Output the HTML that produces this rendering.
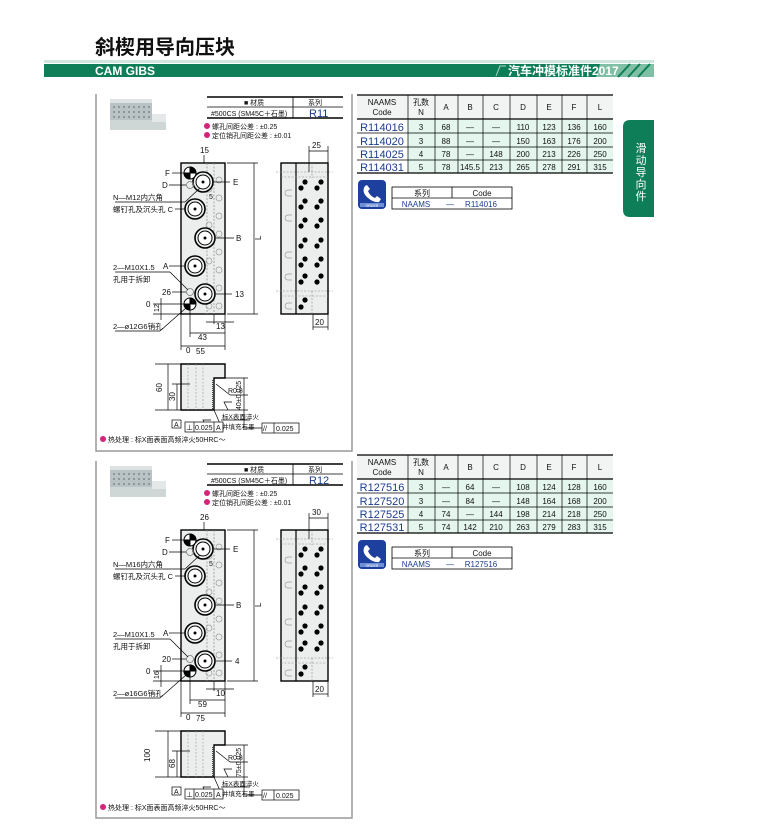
<!DOCTYPE html>
<html><head><meta charset="utf-8"><style>
html,body{margin:0;padding:0;background:#fff;}
svg{display:block;font-family:"Liberation Sans","Noto Sans CJK SC",sans-serif;}
</style></head><body>
<svg width="769" height="839" viewBox="0 0 769 839" xmlns="http://www.w3.org/2000/svg">
<defs>
<g id="quad"><circle r="6" fill="#fff" stroke="#000" stroke-width="1"/><path d="M0,0 L6,0 A6,6 0 0 0 0,-6 Z M0,0 L-6,0 A6,6 0 0 0 0,6 Z" fill="#000"/></g>
<g id="cb"><circle r="10" fill="#eef0f0" stroke="#000" stroke-width="1.6"/><circle r="7" fill="#fff" stroke="#000" stroke-width="1"/><circle r="1" fill="#000"/></g>
<g id="dots"><circle cx="4" cy="0" r="2.6"/><circle cx="0" cy="6" r="2.6"/><circle cx="20" cy="0" r="2.6"/><circle cx="16" cy="6" r="2.6"/></g>
<g id="geom" fill="none" stroke="#000">
  <!-- panel frame -->
  <path d="M96,94 L96,451 L352,451 L352,94" stroke="#999" stroke-width="1.5"/>
  <!-- photo -->
  <g stroke="none"><rect x="110" y="101" width="42" height="22" fill="#b9c2c4"/><rect x="110" y="99" width="42" height="4" fill="#dde2e3"/><rect x="110" y="120" width="56" height="10" fill="#cfd6d6"/><rect x="152" y="114" width="14" height="8" fill="#e4e8e8"/></g>
  <g fill="#7f8a8c" stroke="none">
   <circle cx="114" cy="107" r="1"/><circle cx="119" cy="107" r="1"/><circle cx="124" cy="107" r="1"/><circle cx="129" cy="107" r="1"/><circle cx="134" cy="107" r="1"/><circle cx="139" cy="107" r="1"/><circle cx="144" cy="107" r="1"/><circle cx="149" cy="107" r="1"/>
   <circle cx="114" cy="112" r="1"/><circle cx="119" cy="112" r="1"/><circle cx="124" cy="112" r="1"/><circle cx="129" cy="112" r="1"/><circle cx="134" cy="112" r="1"/><circle cx="139" cy="112" r="1"/><circle cx="144" cy="112" r="1"/><circle cx="149" cy="112" r="1"/>
   <circle cx="114" cy="117" r="1"/><circle cx="119" cy="117" r="1"/><circle cx="124" cy="117" r="1"/><circle cx="129" cy="117" r="1"/><circle cx="134" cy="117" r="1"/><circle cx="139" cy="117" r="1"/><circle cx="144" cy="117" r="1"/><circle cx="149" cy="117" r="1"/>
  </g>
  <!-- material table -->
  <g stroke="#000" stroke-width="0.8"><line x1="207" y1="97" x2="343" y2="97" stroke-width="1.4"/><line x1="207" y1="107" x2="343" y2="107"/><line x1="207" y1="118" x2="343" y2="118" stroke-width="1.4"/><line x1="293" y1="97" x2="293" y2="118"/></g>
  <!-- front block -->
  <rect x="181" y="163" width="44" height="151" fill="#eceeee" stroke-width="1.4"/>
  <line x1="207" y1="163" x2="207" y2="314" stroke="#888" stroke-dasharray="2,1.5" stroke-width="0.7"/>
  <line x1="214" y1="163" x2="214" y2="314" stroke="#888" stroke-dasharray="2,1.5" stroke-width="0.7"/>
  <g stroke="#999" stroke-width="0.7"><circle cx="219" cy="180" r="3"/><circle cx="219" cy="198" r="3"/><circle cx="219" cy="216" r="3"/><circle cx="219" cy="234" r="3"/><circle cx="219" cy="252" r="3"/><circle cx="219" cy="270" r="3"/><circle cx="219" cy="288" r="3"/><circle cx="219" cy="306" r="3"/>
  <circle cx="209" cy="189" r="3"/><circle cx="209" cy="225" r="3"/><circle cx="209" cy="261" r="3"/><circle cx="209" cy="306" r="3"/></g>
  <use href="#cb" x="203" y="182"/><use href="#cb" x="195" y="209"/><use href="#cb" x="205" y="238"/><use href="#cb" x="195" y="266"/><use href="#cb" x="205" y="294"/>
  <use href="#quad" x="190" y="173"/><use href="#quad" x="190" y="304"/>
  <circle cx="190" cy="185" r="3.5" stroke="#777" stroke-width="0.8"/><circle cx="190" cy="292" r="3.5" stroke="#777" stroke-width="0.8"/>
  <!-- leaders -->
  <g stroke-width="0.7">
   <line x1="172" y1="173" x2="184" y2="173"/><line x1="169" y1="185" x2="186" y2="185"/><line x1="214" y1="182" x2="230" y2="182"/>
   <line x1="115" y1="202" x2="185" y2="202"/><line x1="185" y1="202" x2="200" y2="188"/>
   <line x1="175" y1="209" x2="185" y2="209"/><line x1="216" y1="238" x2="234" y2="238"/>
   <line x1="169" y1="266" x2="185" y2="266"/><line x1="115" y1="272" x2="170" y2="272"/><line x1="170" y1="272" x2="188" y2="290"/>
   <line x1="172" y1="292" x2="186" y2="292"/><line x1="216" y1="294" x2="232" y2="294"/>
   <line x1="153" y1="304" x2="184" y2="304"/><line x1="153" y1="314" x2="181" y2="314"/><line x1="161" y1="298" x2="161" y2="320"/>
   <line x1="115" y1="331" x2="160" y2="331"/><line x1="160" y1="331" x2="186" y2="308"/>
   <line x1="204" y1="155" x2="204" y2="163"/>
   <!-- L -->
   <line x1="227" y1="163" x2="258" y2="163"/><line x1="227" y1="314" x2="258" y2="314"/><line x1="254" y1="163" x2="254" y2="314"/>
   <!-- bottom dims -->
   <line x1="181" y1="314" x2="181" y2="350"/><line x1="225" y1="314" x2="225" y2="350"/><line x1="190" y1="310" x2="190" y2="337"/><line x1="214" y1="314" x2="214" y2="324"/>
   <line x1="181" y1="346" x2="225" y2="346"/><line x1="190" y1="333" x2="225" y2="333"/><line x1="206" y1="322" x2="234" y2="322"/>
  </g>
  <!-- side view -->
  <rect x="281" y="163" width="47" height="151" fill="#eceeee" stroke-width="1.4"/>
  <line x1="296" y1="163" x2="296" y2="314" stroke-width="1.2"/>
  <g stroke="#888" stroke-width="0.6" stroke-dasharray="2,1.5"><line x1="276" y1="172" x2="333" y2="172"/><line x1="281" y1="177" x2="328" y2="177"/><line x1="276" y1="291" x2="333" y2="291"/><line x1="281" y1="296" x2="328" y2="296"/><line x1="312" y1="163" x2="312" y2="178"/><line x1="312" y1="291" x2="312" y2="314"/></g>
  <g stroke="#999" stroke-width="0.7"><path d="M292,190 h-4 a3,3 0 0 0 0,6 h4"/><path d="M292,215 h-4 a3,3 0 0 0 0,6 h4"/><path d="M292,252 h-4 a3,3 0 0 0 0,6 h4"/><path d="M292,274 h-4 a3,3 0 0 0 0,6 h4"/><path d="M292,303 h-4 a3,3 0 0 0 0,6 h4"/></g>
  <g fill="#000" stroke="none"><use href="#dots" x="301" y="182"/><use href="#dots" x="301" y="201"/><use href="#dots" x="301" y="220"/><use href="#dots" x="301" y="240"/><use href="#dots" x="301" y="259"/><use href="#dots" x="301" y="276"/><circle cx="305" cy="300" r="2.6"/><circle cx="301" cy="307" r="2.6"/></g>
  <g stroke-width="0.7"><line x1="309" y1="146" x2="309" y2="172"/><line x1="328" y1="146" x2="328" y2="163"/><line x1="309" y1="151" x2="328" y2="151"/>
  <line x1="313" y1="314" x2="313" y2="330"/><line x1="328" y1="314" x2="328" y2="330"/><line x1="313" y1="327" x2="328" y2="327"/></g>
  <!-- bottom profile -->
  <path d="M181,364 L225,364 L225,378 L214,378 L214,410 L181,410 Z" fill="#eceeee" stroke-width="1.4"/>
  <g stroke="#999" stroke-width="0.6" stroke-dasharray="2,1.5"><line x1="188" y1="364" x2="188" y2="410"/><line x1="196" y1="364" x2="196" y2="410"/><line x1="203" y1="364" x2="203" y2="410"/></g>
  <line x1="213" y1="380" x2="213" y2="410" stroke="#444" stroke-width="2" stroke-dasharray="1,1"/>
  <g stroke-width="0.7">
   <line x1="155" y1="364" x2="181" y2="364"/><line x1="168" y1="364" x2="168" y2="410"/><line x1="155" y1="410" x2="181" y2="410"/>
   <line x1="172" y1="384" x2="190" y2="384"/><line x1="177" y1="384" x2="177" y2="410"/>
   <line x1="214" y1="410" x2="248" y2="410"/><line x1="225" y1="378" x2="248" y2="378"/><line x1="244" y1="378" x2="244" y2="410"/>
   <line x1="216" y1="384" x2="230" y2="395"/><line x1="230" y1="395" x2="248" y2="395"/>
   <line x1="214" y1="410" x2="221" y2="426"/><line x1="221" y1="420" x2="250" y2="420"/>
   <line x1="244" y1="410" x2="244" y2="428"/><line x1="244" y1="428" x2="262" y2="428"/>
   <path d="M228,410 l-4,-8 l8,0"/><path d="M207,428 l-4,-8 l8,0"/>
   <rect x="172" y="420" width="9" height="8" fill="#fff"/>
   <rect x="185" y="422" width="38" height="10" fill="#fff"/><line x1="194" y1="422" x2="194" y2="432"/><line x1="214" y1="422" x2="214" y2="432"/>
   <rect x="262" y="423" width="37" height="10" fill="#fff"/><line x1="274" y1="423" x2="274" y2="433"/>
  </g>
</g>
</defs>

<!-- header -->
<text x="95" y="54" font-size="20" font-weight="bold" fill="#111">斜楔用导向压块</text>
<rect x="44" y="60" width="610" height="3" fill="#cfe6dc"/>
<rect x="44" y="64" width="610" height="13" fill="#0e7e58"/>
<text x="95" y="75" font-size="12" font-weight="bold" fill="#fff">CAM GIBS</text>
<polygon points="600,64 654,64 654,77 596,77" fill="#7fbfa5"/>
<g stroke="#0e7e58" stroke-width="2"><line x1="618" y1="77" x2="630" y2="64"/><line x1="628" y1="77" x2="640" y2="64"/><line x1="638" y1="77" x2="650" y2="64"/></g>
<text x="508" y="75" font-size="12" font-weight="bold" fill="#fff">汽车冲模标准件2017</text>
<path d="M496,76 L500,66 L506,66" stroke="#a8d8c4" fill="none" stroke-width="1"/>
<!-- side tab -->
<path d="M630,120 L654,120 L654,217 L630,217 Q623,217 623,210 L623,127 Q623,120 630,120 Z" fill="#0e7e58"/>
<g font-size="11" fill="#fff" text-anchor="middle"><text x="641" y="152">滑</text><text x="641" y="164">动</text><text x="641" y="176">导</text><text x="641" y="188">向</text><text x="641" y="200">件</text></g>

<!-- section 1 drawing -->
<use href="#geom"/>
<g font-size="8" fill="#111">
<text x="244" y="105" font-size="7">■ 材质</text><text x="308" y="105" font-size="7">系列</text>
<text x="211" y="116" font-size="7">#500CS (SM45C＋石墨)</text><text x="309" y="117" font-size="11" fill="#1a3d8f">R11</text>
<circle cx="207" cy="126" r="3" fill="#d4237a"/><text x="212" y="129" font-size="7">螺孔间距公差 : ±0.25</text>
<circle cx="207" cy="135" r="3" fill="#d4237a"/><text x="212" y="138" font-size="7">定位销孔间距公差 : ±0.01</text>
<text x="200" y="153">15</text>
<text x="165" y="176">F</text><text x="162" y="188">D</text><text x="233" y="185">E</text>
<text x="113" y="200" font-size="7.5">N—M12内六角</text><text x="113" y="212" font-size="7.5">螺钉孔及沉头孔 C</text>
<text x="209" y="199" font-size="7">5</text>
<text x="236" y="241">B</text><text x="261" y="240" transform="rotate(-90 261 240)">L</text>
<text x="163" y="269">A</text><text x="113" y="270" font-size="7.5">2—M10X1.5</text><text x="113" y="282" font-size="7.5">孔用于拆卸</text>
<text x="162" y="295">26</text><text x="235" y="297">13</text>
<text x="146" y="307">0</text><text x="159" y="312" font-size="7" transform="rotate(-90 159 312)">12</text>
<text x="113" y="329" font-size="7.5">2—ø12G6销孔</text>
<text x="216" y="329">13</text><text x="198" y="340">43</text><text x="186" y="353">0</text><text x="196" y="354">55</text>
<text x="312" y="148">25</text><text x="315" y="325">20</text>
<text x="162" y="392" transform="rotate(-90 162 392)">60</text><text x="175" y="401" transform="rotate(-90 175 401)">30</text>
<text x="228" y="393" font-size="7">R0.8</text>
<text x="241" y="410" font-size="7" transform="rotate(-90 241 410)">40±0.025</text>
<text x="222" y="419" font-size="6.5">标X表面淬火</text><text x="222" y="429" font-size="6.5">并填充石墨</text>
<text x="174" y="427" font-size="7">A</text><text x="186" y="430" font-size="7">⊥</text><text x="195" y="430" font-size="7">0.025</text><text x="216" y="430" font-size="7">A</text>
<text x="263" y="431" font-size="7">//</text><text x="276" y="431" font-size="7">0.025</text>
<circle cx="103" cy="439" r="3" fill="#d4237a"/><text x="108" y="442" font-size="7">热处理 : 标X面表面高频淬火50HRC～</text>
</g>

<!-- section 2 drawing -->
<use href="#geom" y="367"/>
<g font-size="8" fill="#111">
<text x="244" y="472" font-size="7">■ 材质</text><text x="308" y="472" font-size="7">系列</text>
<text x="211" y="483" font-size="7">#500CS (SM45C＋石墨)</text><text x="309" y="484" font-size="11" fill="#1a3d8f">R12</text>
<circle cx="207" cy="493" r="3" fill="#d4237a"/><text x="212" y="496" font-size="7">螺孔间距公差 : ±0.25</text>
<circle cx="207" cy="502" r="3" fill="#d4237a"/><text x="212" y="505" font-size="7">定位销孔间距公差 : ±0.01</text>
<text x="200" y="520">26</text>
<text x="165" y="543">F</text><text x="162" y="555">D</text><text x="233" y="552">E</text>
<text x="113" y="567" font-size="7.5">N—M16内六角</text><text x="113" y="579" font-size="7.5">螺钉孔及沉头孔 C</text>
<text x="209" y="566" font-size="7">5</text>
<text x="236" y="608">B</text><text x="261" y="607" transform="rotate(-90 261 607)">L</text>
<text x="163" y="636">A</text><text x="113" y="637" font-size="7.5">2—M10X1.5</text><text x="113" y="649" font-size="7.5">孔用于拆卸</text>
<text x="162" y="662">20</text><text x="235" y="664">4</text>
<text x="146" y="674">0</text><text x="159" y="679" font-size="7" transform="rotate(-90 159 679)">16</text>
<text x="113" y="696" font-size="7.5">2—ø16G6销孔</text>
<text x="216" y="696">10</text><text x="198" y="707">59</text><text x="186" y="720">0</text><text x="196" y="721">75</text>
<text x="312" y="515">30</text><text x="315" y="692">20</text>
<text x="150" y="762" transform="rotate(-90 150 762)">100</text><text x="175" y="768" transform="rotate(-90 175 768)">68</text>
<text x="228" y="760" font-size="7">R0.8</text>
<text x="241" y="777" font-size="7" transform="rotate(-90 241 777)">75±0.025</text>
<text x="222" y="786" font-size="6.5">标X表面淬火</text><text x="222" y="796" font-size="6.5">并填充石墨</text>
<text x="174" y="794" font-size="7">A</text><text x="186" y="797" font-size="7">⊥</text><text x="195" y="797" font-size="7">0.025</text><text x="216" y="797" font-size="7">A</text>
<text x="263" y="798" font-size="7">//</text><text x="276" y="798" font-size="7">0.025</text>
<circle cx="103" cy="807" r="3" fill="#d4237a"/><text x="108" y="810" font-size="7">热处理 : 标X面表面高频淬火50HRC～</text>
</g>

<!-- tables -->
<g id="t1">
<rect x="357" y="95" width="256" height="24" fill="#f2f4f4"/>
<rect x="408" y="119" width="205" height="54" fill="#e4f6ee"/>
<g stroke="#000" stroke-width="0.7">
<line x1="357" y1="95" x2="613" y2="95" stroke-width="1.3"/><line x1="357" y1="119" x2="613" y2="119" stroke-width="1.3"/>
<line x1="357" y1="133" x2="613" y2="133"/><line x1="357" y1="147" x2="613" y2="147"/><line x1="357" y1="160" x2="613" y2="160"/><line x1="357" y1="173" x2="613" y2="173" stroke-width="1.3"/>
<line x1="408" y1="95" x2="408" y2="173"/><line x1="435" y1="95" x2="435" y2="173"/><line x1="458" y1="95" x2="458" y2="173"/><line x1="483" y1="95" x2="483" y2="173"/><line x1="510" y1="95" x2="510" y2="173"/><line x1="537" y1="95" x2="537" y2="173"/><line x1="562" y1="95" x2="562" y2="173"/><line x1="587" y1="95" x2="587" y2="173"/>
</g>
</g>
<g font-size="8" fill="#111" text-anchor="middle">
<text x="382" y="105">NAAMS</text><text x="382" y="115">Code</text><text x="421" y="105">孔数</text><text x="421" y="115">N</text>
<text x="446" y="110">A</text><text x="470" y="110">B</text><text x="496" y="110">C</text><text x="523" y="110">D</text><text x="549" y="110">E</text><text x="574" y="110">F</text><text x="600" y="110">L</text>
<g font-size="11" fill="#1a3d8f"><text x="382" y="131">R114016</text><text x="382" y="145">R114020</text><text x="382" y="158">R114025</text><text x="382" y="171">R114031</text></g>
<text x="421" y="130">3</text><text x="446" y="130">68</text><text x="470" y="130">—</text><text x="496" y="130">—</text><text x="523" y="130">110</text><text x="549" y="130">123</text><text x="574" y="130">136</text><text x="600" y="130">160</text>
<text x="421" y="144">3</text><text x="446" y="144">88</text><text x="470" y="144">—</text><text x="496" y="144">—</text><text x="523" y="144">150</text><text x="549" y="144">163</text><text x="574" y="144">176</text><text x="600" y="144">200</text>
<text x="421" y="157">4</text><text x="446" y="157">78</text><text x="470" y="157">—</text><text x="496" y="157">148</text><text x="523" y="157">200</text><text x="549" y="157">213</text><text x="574" y="157">226</text><text x="600" y="157">250</text>
<text x="421" y="170">5</text><text x="446" y="170">78</text><text x="470" y="170">145.5</text><text x="496" y="170">213</text><text x="523" y="170">265</text><text x="549" y="170">278</text><text x="574" y="170">291</text><text x="600" y="170">315</text>
</g>
<use href="#t1" y="360"/>
<g font-size="8" fill="#111" text-anchor="middle">
<text x="382" y="465">NAAMS</text><text x="382" y="475">Code</text><text x="421" y="465">孔数</text><text x="421" y="475">N</text>
<text x="446" y="470">A</text><text x="470" y="470">B</text><text x="496" y="470">C</text><text x="523" y="470">D</text><text x="549" y="470">E</text><text x="574" y="470">F</text><text x="600" y="470">L</text>
<g font-size="11" fill="#1a3d8f"><text x="382" y="491">R127516</text><text x="382" y="505">R127520</text><text x="382" y="518">R127525</text><text x="382" y="531">R127531</text></g>
<text x="421" y="490">3</text><text x="446" y="490">—</text><text x="470" y="490">64</text><text x="496" y="490">—</text><text x="523" y="490">108</text><text x="549" y="490">124</text><text x="574" y="490">128</text><text x="600" y="490">160</text>
<text x="421" y="504">3</text><text x="446" y="504">—</text><text x="470" y="504">84</text><text x="496" y="504">—</text><text x="523" y="504">148</text><text x="549" y="504">164</text><text x="574" y="504">168</text><text x="600" y="504">200</text>
<text x="421" y="517">4</text><text x="446" y="517">74</text><text x="470" y="517">—</text><text x="496" y="517">144</text><text x="523" y="517">198</text><text x="549" y="517">214</text><text x="574" y="517">218</text><text x="600" y="517">250</text>
<text x="421" y="530">5</text><text x="446" y="530">74</text><text x="470" y="530">142</text><text x="496" y="530">210</text><text x="523" y="530">263</text><text x="549" y="530">279</text><text x="574" y="530">283</text><text x="600" y="530">315</text>
</g>

<!-- order boxes -->
<g id="ord">
<rect x="358" y="180" width="28" height="29" rx="4" fill="#1d3f9e"/>
<path d="M365,186 q-4,6 3,12 q6,5 11,4 l2,-3 l-4,-3 l-2,2 q-5,-2 -7,-7 l2,-2 l-3,-4 z" fill="#fff"/>
<rect x="360" y="203" width="24" height="4" fill="#6f8fd6"/>
<rect x="392" y="187" width="120" height="22" fill="#fff" stroke="#000" stroke-width="0.8"/>
<line x1="392" y1="198" x2="512" y2="198" stroke="#000" stroke-width="0.8"/><line x1="452" y1="187" x2="452" y2="198" stroke="#000" stroke-width="0.8"/>
</g>
<use href="#ord" y="360"/>
<g font-size="8" text-anchor="middle">
<text x="422" y="196" fill="#111">系列</text><text x="482" y="196" fill="#111">Code</text>
<text x="416" y="207" fill="#1a3d8f">NAAMS</text><text x="450" y="207" fill="#1a3d8f">—</text><text x="481" y="207" fill="#1a3d8f">R114016</text>
<text x="422" y="556" fill="#111">系列</text><text x="482" y="556" fill="#111">Code</text>
<text x="416" y="567" fill="#1a3d8f">NAAMS</text><text x="450" y="567" fill="#1a3d8f">—</text><text x="481" y="567" fill="#1a3d8f">R127516</text>
<text x="372" y="207" font-size="3.5" fill="#fff">ORDER</text><text x="372" y="567" font-size="3.5" fill="#fff">ORDER</text>
</g>
</svg>
</body></html>
